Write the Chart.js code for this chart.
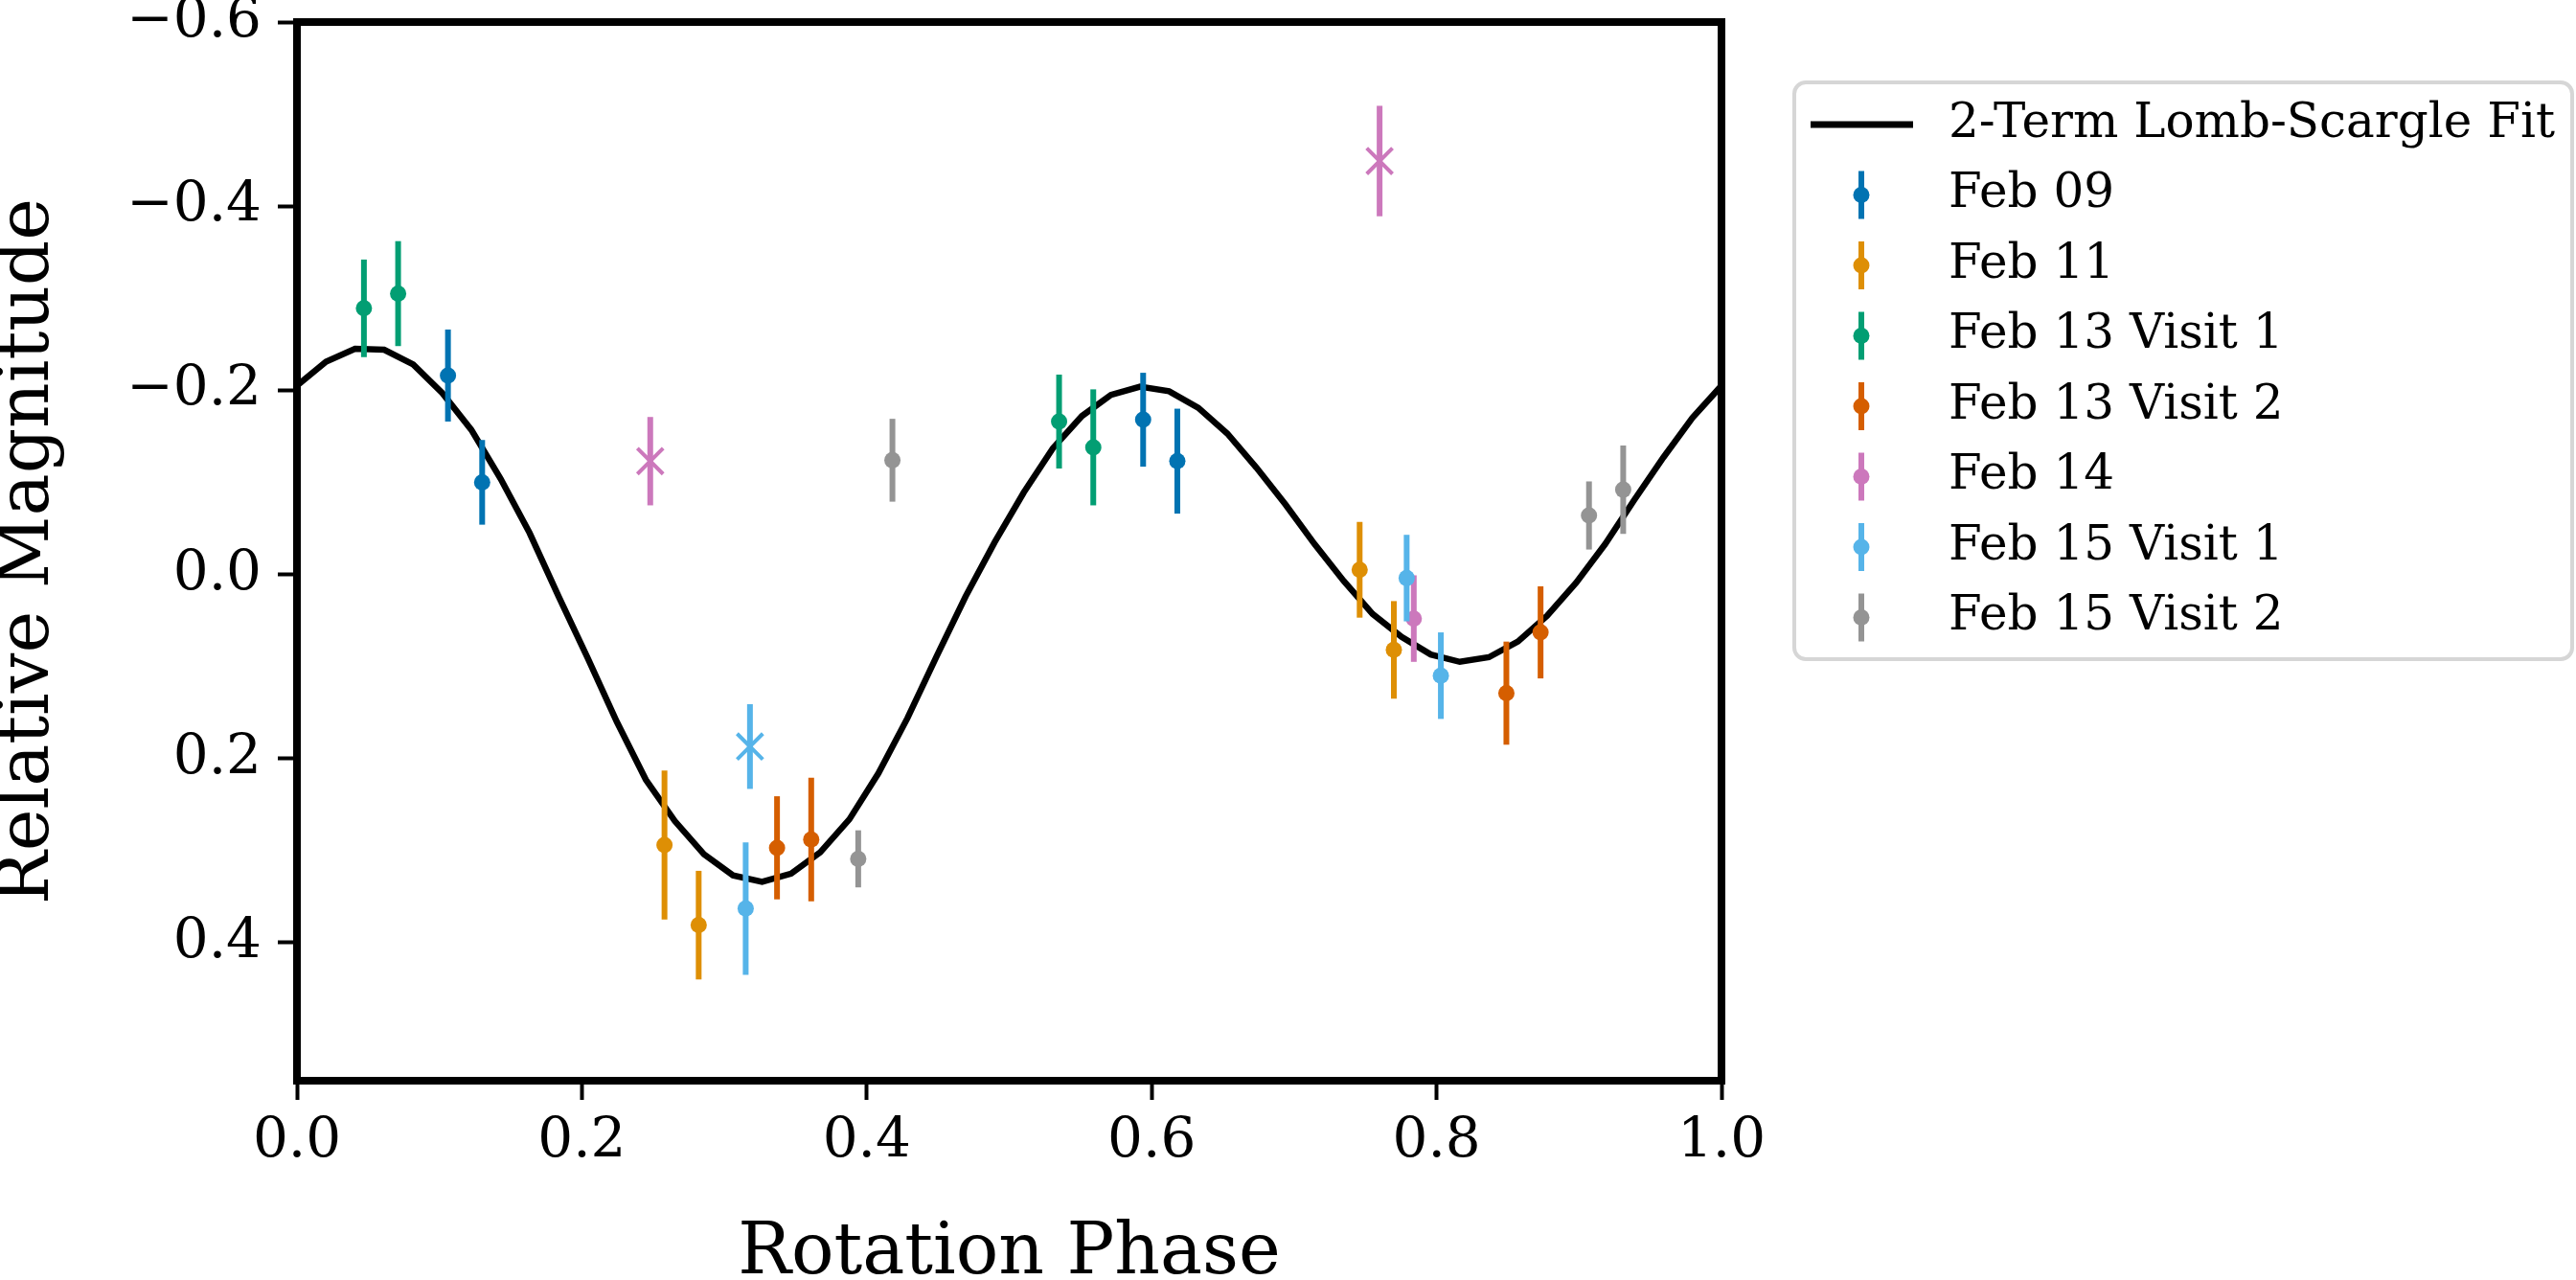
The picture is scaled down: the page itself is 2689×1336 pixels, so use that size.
<!DOCTYPE html>
<html lang="en">
<head>
  <meta charset="UTF-8" />
  <title>Rotation Phase</title>
  <script src="https://cdn.jsdelivr.net/npm/chart.js@4.4.1/dist/chart.umd.min.js"></script>
  <style>
    html, body { margin: 0; padding: 0; background: #fff; }
    #wrap { width: 2689px; height: 1336px; }
  </style>
</head>
<body>
  <div id="wrap"><canvas id="lightcurve" width="2689" height="1336"></canvas></div>

  <script>
    // fit curve
    const fitLabel = "2-Term Lomb-Scargle Fit";
    const fitPhase = [0.0000, 0.0204, 0.0408, 0.0612, 0.0816, 0.1020, 0.1224, 0.1429, 0.1633, 0.1837,
                      0.2041, 0.2245, 0.2449, 0.2653, 0.2857, 0.3061, 0.3265, 0.3469, 0.3673, 0.3878,
                      0.4082, 0.4286, 0.4490, 0.4694, 0.4898, 0.5102, 0.5306, 0.5510, 0.5714, 0.5918,
                      0.6122, 0.6327, 0.6531, 0.6735, 0.6939, 0.7143, 0.7347, 0.7551, 0.7755, 0.7959,
                      0.8163, 0.8367, 0.8571, 0.8776, 0.8980, 0.9184, 0.9388, 0.9592, 0.9796, 1.0000];
    const fitMag = [-0.205, -0.231, -0.245, -0.244, -0.228, -0.197, -0.157, -0.104, -0.045, 0.024,
                    0.091, 0.160, 0.223, 0.268, 0.304, 0.327, 0.334, 0.325, 0.302, 0.266,
                    0.216, 0.156, 0.089, 0.024, -0.035, -0.089, -0.137, -0.172, -0.195, -0.204,
                    -0.199, -0.181, -0.153, -0.116, -0.076, -0.033, 0.007, 0.043, 0.068, 0.087,
                    0.095, 0.090, 0.073, 0.045, 0.009, -0.033, -0.081, -0.127, -0.170, -0.205];

    // observations ('o' = dot, 'x' = cross)
    const feb09Phase = [0.106, 0.130, 0.594, 0.618];
    const feb09Mag = [-0.216, -0.100, -0.168, -0.123];
    const feb09Err = [0.050, 0.046, 0.051, 0.057];
    const feb09Marker = ['o', 'o', 'o', 'o'];

    const feb11Phase = [0.258, 0.282, 0.746, 0.770];
    const feb11Mag = [0.294, 0.381, -0.005, 0.082];
    const feb11Err = [0.081, 0.059, 0.052, 0.053];
    const feb11Marker = ['o', 'o', 'o', 'o'];

    const feb13aPhase = [0.047, 0.071, 0.535, 0.559];
    const feb13aMag = [-0.289, -0.305, -0.166, -0.138];
    const feb13aErr = [0.053, 0.057, 0.051, 0.063];
    const feb13aMarker = ['o', 'o', 'o', 'o'];

    const feb13bPhase = [0.337, 0.361, 0.849, 0.873];
    const feb13bMag = [0.297, 0.288, 0.129, 0.063];
    const feb13bErr = [0.056, 0.067, 0.056, 0.050];
    const feb13bMarker = ['o', 'o', 'o', 'o'];

    const feb14Phase = [0.248, 0.760, 0.784];
    const feb14Mag = [-0.123, -0.449, 0.048];
    const feb14Err = [0.048, 0.060, 0.047];
    const feb14Marker = ['x', 'x', 'o'];

    const feb15aPhase = [0.318, 0.315, 0.779, 0.803];
    const feb15aMag = [0.187, 0.363, 0.004, 0.110];
    const feb15aErr = [0.046, 0.072, 0.047, 0.047];
    const feb15aMarker = ['x', 'o', 'o', 'o'];

    const feb15bPhase = [0.394, 0.418, 0.907, 0.931];
    const feb15bMag = [0.309, -0.124, -0.064, -0.092];
    const feb15bErr = [0.031, 0.045, 0.037, 0.048];
    const feb15bMarker = ['o', 'o', 'o', 'o'];

    const seriesNames = ["Feb 09", "Feb 11", "Feb 13 Visit 1", "Feb 13 Visit 2", "Feb 14", "Feb 15 Visit 1", "Feb 15 Visit 2"];
    const seriesColors = ["#0173B2", "#DE8F05", "#029E73", "#D55E00", "#CC78BC", "#56B4E9", "#949494"];
    const seriesPhase = [feb09Phase, feb11Phase, feb13aPhase, feb13bPhase, feb14Phase, feb15aPhase, feb15bPhase];
    const seriesMag = [feb09Mag, feb11Mag, feb13aMag, feb13bMag, feb14Mag, feb15aMag, feb15bMag];
    const seriesErr = [feb09Err, feb11Err, feb13aErr, feb13bErr, feb14Err, feb15aErr, feb15bErr];
    const seriesMarker = [feb09Marker, feb11Marker, feb13aMarker, feb13bMarker, feb14Marker, feb15aMarker, feb15bMarker];

    const xTicks = [0.0, 0.2, 0.4, 0.6, 0.8, 1.0];
    const yTicks = [-0.6, -0.4, -0.2, 0.0, 0.2, 0.4];
    const xTitle = "Rotation Phase";
    const yTitle = "Relative Magnitude";

    const SERIF = '"DejaVu Serif", "Liberation Serif", serif';
    const fmt = (v) => v.toFixed(1).replace('-', '\u2212');

    const datasets = [{
      type: 'line',
      label: fitLabel,
      data: fitPhase.map((p, i) => ({ x: p, y: fitMag[i] })),
      borderColor: '#000',
      borderWidth: 6.5,
      pointRadius: 0,
      tension: 0,
      fill: false,
      order: 20,
    }];

    seriesNames.forEach((name, s) => {
      const marks = seriesMarker[s];
      datasets.push({
        type: 'scatter',
        label: name,
        data: seriesPhase[s].map((p, i) => ({ x: p, y: seriesMag[s][i] })),
        errors: seriesErr[s],
        borderColor: seriesColors[s],
        backgroundColor: seriesColors[s],
        pointStyle: marks.map((m) => (m === 'x' ? 'crossRot' : 'circle')),
        pointRadius: marks.map((m) => (m === 'x' ? 19 : 8.5)),
        pointBorderWidth: marks.map((m) => (m === 'x' ? 4 : 0)),
        order: 10 - s,
      });
    });

    // vertical error bars under each series' markers
    const errorBars = {
      id: 'errorBars',
      beforeDatasetDraw(chart, args) {
        const ds = chart.data.datasets[args.index];
        if (!ds.errors) return;
        const xs = chart.scales.x, ys = chart.scales.y, ctx = chart.ctx;
        ctx.save();
        ctx.strokeStyle = ds.borderColor;
        ctx.lineWidth = 6;
        ctx.lineCap = 'butt';
        ds.data.forEach((p, i) => {
          const px = xs.getPixelForValue(p.x);
          ctx.beginPath();
          ctx.moveTo(px, ys.getPixelForValue(p.y - ds.errors[i]));
          ctx.lineTo(px, ys.getPixelForValue(p.y + ds.errors[i]));
          ctx.stroke();
        });
        ctx.restore();
      },
    };

    // axes frame + boxed legend
    const frameAndLegend = {
      id: 'frameAndLegend',
      afterDraw(chart) {
        const ctx = chart.ctx, a = chart.chartArea;
        ctx.save();
        ctx.strokeStyle = '#000';
        ctx.lineWidth = 8;
        ctx.strokeRect(a.left, a.top, a.right - a.left, a.bottom - a.top);

        const bx = a.right + 76, by = 86, bw = 812, bh = 602, r = 12;
        ctx.beginPath();
        ctx.roundRect(bx, by, bw, bh, r);
        ctx.fillStyle = 'rgba(255,255,255,0.8)';
        ctx.fill();
        ctx.lineWidth = 4;
        ctx.strokeStyle = '#d6d6d6';
        ctx.stroke();

        const rowY = (i) => by + 44 + i * 73.5;
        const textX = bx + 161;
        const symX = bx + 70;
        ctx.font = '50px ' + SERIF;
        ctx.textBaseline = 'middle';
        ctx.textAlign = 'left';

        // fit line
        ctx.strokeStyle = '#000';
        ctx.lineWidth = 7;
        ctx.beginPath();
        ctx.moveTo(bx + 17, rowY(0));
        ctx.lineTo(bx + 124, rowY(0));
        ctx.stroke();
        ctx.fillStyle = '#000';
        ctx.fillText(fitLabel, textX, rowY(0));

        seriesNames.forEach((name, s) => {
          const y = rowY(s + 1);
          ctx.strokeStyle = seriesColors[s];
          ctx.fillStyle = seriesColors[s];
          ctx.lineWidth = 6;
          ctx.beginPath();
          ctx.moveTo(symX, y - 25);
          ctx.lineTo(symX, y + 25);
          ctx.stroke();
          ctx.beginPath();
          ctx.arc(symX, y, 8.5, 0, Math.PI * 2);
          ctx.fill();
          ctx.fillStyle = '#000';
          ctx.fillText(name, textX, y);
        });
        ctx.restore();
      },
    };

    new Chart(document.getElementById('lightcurve'), {
      data: { datasets },
      plugins: [errorBars, frameAndLegend],
      options: {
        responsive: false,
        animation: false,
        events: [],
        devicePixelRatio: 1,
        layout: { padding: { left: 0, top: 23, right: 892, bottom: 0 } },
        plugins: { legend: { display: false }, tooltip: { enabled: false } },
        scales: {
          x: {
            type: 'linear',
            min: 0,
            max: 1,
            afterBuildTicks: (scale) => { scale.ticks = xTicks.map((v) => ({ value: v })); },
            afterFit: (scale) => { scale.height = 208; scale.paddingLeft = 0; scale.paddingRight = 0; },
            grid: { drawOnChartArea: false, tickLength: 20, tickWidth: 4, tickColor: '#000' },
            border: { display: false },
            ticks: {
              padding: 15,
              color: '#000',
              maxRotation: 0,
              font: { family: SERIF, size: 58, lineHeight: 1 },
              callback: (v) => fmt(v),
            },
            title: {
              display: true,
              text: xTitle,
              color: '#000',
              font: { family: SERIF, size: 74, lineHeight: 0.7 },
              padding: 0,
            },
          },
          y: {
            type: 'linear',
            reverse: true,
            min: -0.6,
            max: 0.55,
            afterBuildTicks: (scale) => { scale.ticks = yTicks.map((v) => ({ value: v })); },
            afterFit: (scale) => { scale.width = 310; scale.paddingTop = 0; scale.paddingBottom = 0; },
            grid: { drawOnChartArea: false, tickLength: 20, tickWidth: 4, tickColor: '#000' },
            border: { display: false },
            ticks: {
              padding: 17,
              color: '#000',
              font: { family: SERIF, size: 58, lineHeight: 1 },
              callback: (v) => fmt(v),
            },
            title: {
              display: true,
              text: yTitle,
              color: '#000',
              font: { family: SERIF, size: 74, lineHeight: 0.84 },
              padding: 0,
            },
          },
        },
      },
    });
  </script>
</body>
</html>
